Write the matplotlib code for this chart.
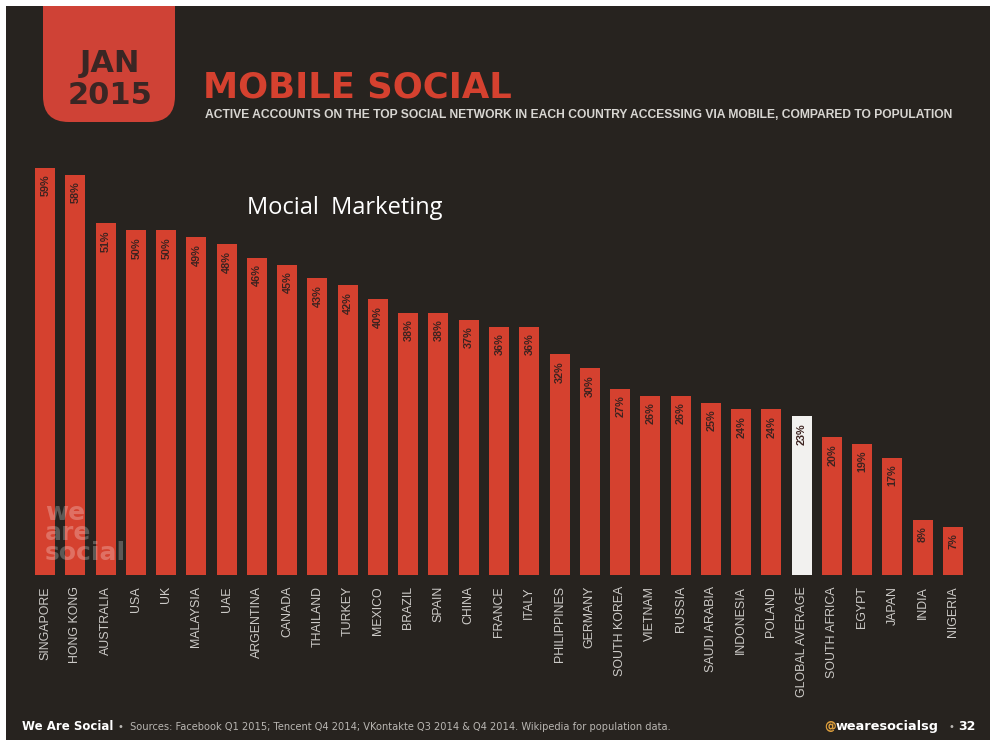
import matplotlib
matplotlib.use("Agg")
import matplotlib.pyplot as plt
from matplotlib.patches import Rectangle, FancyBboxPatch

# ---- data -------------------------------------------------------------
countries = [
    "SINGAPORE", "HONG KONG", "AUSTRALIA", "USA", "UK", "MALAYSIA", "UAE",
    "ARGENTINA", "CANADA", "THAILAND", "TURKEY", "MEXICO", "BRAZIL", "SPAIN",
    "CHINA", "FRANCE", "ITALY", "PHILIPPINES", "GERMANY", "SOUTH KOREA",
    "VIETNAM", "RUSSIA", "SAUDI ARABIA", "INDONESIA", "POLAND",
    "GLOBAL AVERAGE", "SOUTH AFRICA", "EGYPT", "JAPAN", "INDIA", "NIGERIA",
]
mobile_share = [
    59, 58, 51, 50, 50, 49, 48, 46, 45, 43, 42, 40, 38, 38, 37, 36, 36,
    32, 30, 27, 26, 26, 25, 24, 24, 23, 20, 19, 17, 8, 7,
]
highlight = "GLOBAL AVERAGE"

# ---- style ------------------------------------------------------------
W, H = 990, 746
BG = "#27231f"
RED = "#d5412f"
BADGE_RED = "#cf4236"
LABEL_DARK = "#3d2320"
TICK_GREY = "#cdcbc8"
NARROW = ["Liberation Sans Narrow", "Liberation Sans", "DejaVu Sans"]

fig = plt.figure(figsize=(W / 100, H / 100), dpi=100, facecolor="white")


def fx(px):
    return px / W


def fy(py):
    return 1 - py / H


# dark slide panel (behind the axes)
panel = Rectangle((fx(6), fy(740)), fx(990) - fx(6), fy(6) - fy(740),
                  transform=fig.transFigure, facecolor=BG, edgecolor="none",
                  zorder=-2)
fig.patches.append(panel)

# date badge hanging from the top edge
badge = FancyBboxPatch((fx(43), fy(122)), fx(175) - fx(43), fy(-40) - fy(122),
                       boxstyle="round,pad=0,rounding_size=0.026",
                       transform=fig.transFigure, facecolor=BADGE_RED,
                       edgecolor="none", zorder=1, mutation_aspect=W / H)
badge.set_clip_path(panel)
fig.patches.append(badge)
fig.text(fx(110), fy(64), "JAN", ha="center", va="center", fontsize=22,
         fontweight="bold", color="#3a2624", family="DejaVu Sans", zorder=2)
fig.text(fx(110), fy(96), "2015", ha="center", va="center", fontsize=22,
         fontweight="bold", color="#3a2624", family="DejaVu Sans", zorder=2)

# headline and strapline
fig.text(fx(203), fy(98), "MOBILE SOCIAL", ha="left", va="baseline",
         fontsize=25.5, fontweight="heavy", color=RED, family="DejaVu Sans")
fig.text(fx(205), fy(118),
         "ACTIVE ACCOUNTS ON THE TOP SOCIAL NETWORK IN EACH COUNTRY "
         "ACCESSING VIA MOBILE, COMPARED TO POPULATION",
         ha="left", va="baseline", fontsize=8.7, fontweight="bold",
         color="#d8d6d2", family=NARROW)

# ---- bar chart --------------------------------------------------------
ax = fig.add_axes([fx(29.9), fy(575), fx(968.1) - fx(29.9), fy(161) - fy(575)])
ax.set_facecolor("none")
x = list(range(len(countries)))
colors = ["#f2f1ef" if c == highlight else RED for c in countries]
bars = ax.bar(x, mobile_share, width=0.66, color=colors, zorder=2)
ax.set_xlim(-0.5, len(countries) - 0.5)
ax.set_ylim(0, 60)

for xi, v in zip(x, mobile_share):
    ax.annotate(f"{v}%", (xi, v), xytext=(0.3, -5), textcoords="offset points",
                rotation=90, ha="center", va="top", fontsize=7.8,
                fontweight="bold", color=LABEL_DARK, family=NARROW, zorder=3)

ax.set_xticks(x)
ax.set_xticklabels(countries, rotation=90, va="top", ha="center",
                   fontsize=8.9, color=TICK_GREY, family=NARROW)
ax.tick_params(axis="x", length=0, pad=8)
ax.set_yticks([])
for s in ax.spines.values():
    s.set_visible(False)

# watermark over the first bars
fig.text(fx(45), fy(560), "we\nare\nsocial", ha="left", va="baseline",
         fontsize=18, fontweight="bold", color="white", alpha=0.25,
         family="DejaVu Sans", linespacing=0.78, zorder=5)

# overlay caption
fig.text(fx(247), fy(214), "Mocial  Marketing", ha="left", va="baseline",
         fontsize=17, color="white", family="Open Sans")

# ---- footer -----------------------------------------------------------
fig.text(fx(22), fy(730), "We Are Social", ha="left", va="baseline",
         fontsize=8.5, fontweight="bold", color="white", family="DejaVu Sans")
fig.text(fx(118), fy(730),
         "\u2022  Sources: Facebook Q1 2015; Tencent Q4 2014; VKontakte Q3 2014 "
         "& Q4 2014. Wikipedia for population data.",
         ha="left", va="baseline", fontsize=7.1, color="#b9b6b2",
         family="DejaVu Sans")
fig.text(fx(976), fy(730), "32", ha="right", va="baseline",
         fontsize=9, fontweight="bold", color="white", family="DejaVu Sans")
fig.text(fx(951), fy(730), "\u2022", ha="center", va="baseline",
         fontsize=7, color="#b9b6b2", family="DejaVu Sans")
fig.text(fx(836), fy(730), "wearesocialsg", ha="left", va="baseline",
         fontsize=9.3, fontweight="bold", color="white", family="DejaVu Sans")
fig.text(fx(836), fy(730), "@", ha="right", va="baseline",
         fontsize=8.5, fontweight="bold", color="#e0a03c", family="DejaVu Sans")

fig.savefig("out.png", dpi=100, facecolor=fig.get_facecolor())
